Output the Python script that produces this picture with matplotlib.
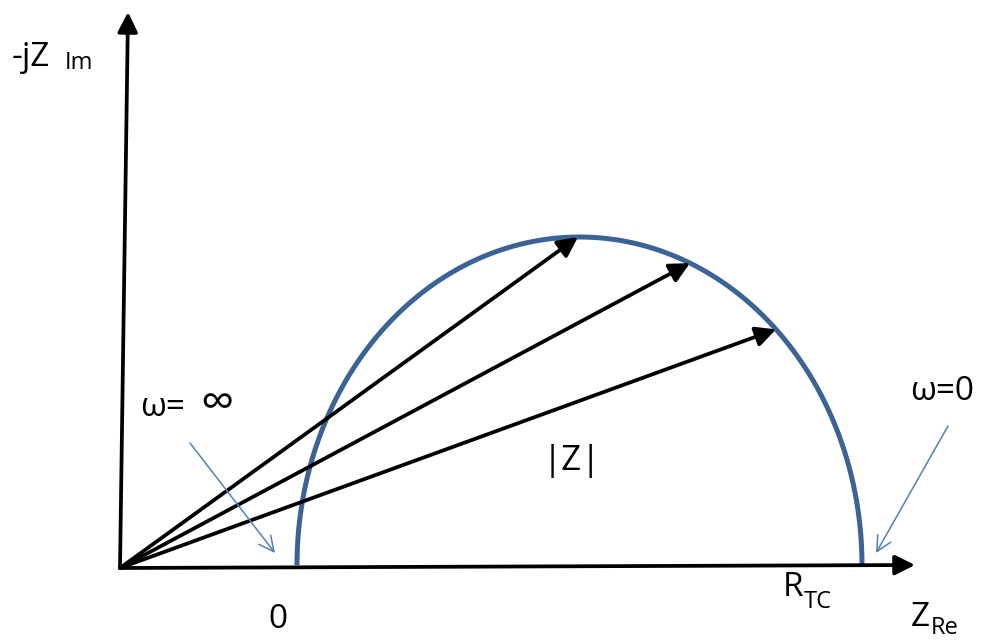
import numpy as np
import matplotlib
matplotlib.use('Agg')
import matplotlib.pyplot as plt
from matplotlib.patches import FancyArrowPatch

plt.rcParams['font.family'] = ['Open Sans', 'DejaVu Sans']

# semicircle (Nyquist arc) geometry
R_START = 177.0       # where the arc leaves the real axis
R_END = 742.0         # R_TC
ARC_HEIGHT = 328.0
BASE = 3.0

# |Z| vectors end on the arc at these real parts
vector_x = [458.0, 570.0, 656.0]

# axes arrows
x_axis_end = [795.0, 3.0]
y_axis_end = [8.0, 556.0]

# pointer arrows (start, end)
inf_arrow = [(70.0, 125.0), (155.0, 15.0)]
zero_arrow = [(828.0, 142.0), (756.0, 15.0)]

BLUE = '#3b6396'
LIGHT = '#4f81bd'

fig = plt.figure(figsize=(9.91, 6.42), dpi=100)
ax = fig.add_axes([0, 0, 1, 1])
ax.set_xlim(-120, 871)
ax.set_ylim(-74, 568)
ax.axis('off')

cx = (R_START + R_END) / 2
a = (R_END - R_START) / 2
t = np.linspace(0, np.pi, 400)
ax.plot(cx + a * np.cos(t), BASE + ARC_HEIGHT * np.sin(t), color=BLUE, lw=3.6,
        solid_capstyle='butt', zorder=2)


def arc_y(x):
    return BASE + ARC_HEIGHT * np.sqrt(1 - ((x - cx) / a) ** 2)


def black_arrow(x0, y0, x1, y1):
    ax.add_patch(FancyArrowPatch((x0, y0), (x1, y1), arrowstyle='-|>',
                                 mutation_scale=30, lw=2.7, color='black',
                                 shrinkA=0, shrinkB=0, zorder=3))


black_arrow(0, 0, *x_axis_end)
black_arrow(0, 0, *y_axis_end)
for vx in vector_x:
    black_arrow(0, 0, vx, arc_y(vx))

for (s, e) in (inf_arrow, zero_arrow):
    ax.add_patch(FancyArrowPatch(s, e, arrowstyle='->', mutation_scale=27,
                                 lw=1.1, color=LIGHT, shrinkA=0, shrinkB=0, zorder=3))

ax.text(-108, 511, '-jZ', fontsize=24, ha='left', va='center')
ax.text(-55, 505, 'Im', fontsize=17, ha='left', va='center')
ax.text(20, 160, 'ω=', fontsize=24, ha='left', va='center')
ax.text(80, 164, '∞', fontsize=34, ha='left', va='center')
ax.text(790, 177, 'ω=0', fontsize=24, ha='left', va='center')
ax.text(452, 107, '|Z|', fontsize=25, ha='center', va='center')
ax.text(158, -52, '0', fontsize=24, ha='center', va='center')
ax.text(663, -19, 'R', fontsize=24, ha='left', va='center')
ax.text(684, -34, 'TC', fontsize=17, ha='left', va='center')
ax.text(791, -49, 'Z', fontsize=24, ha='left', va='center')
ax.text(811, -60, 'Re', fontsize=17, ha='left', va='center')

fig.savefig('out.png', dpi=100, facecolor='white')
